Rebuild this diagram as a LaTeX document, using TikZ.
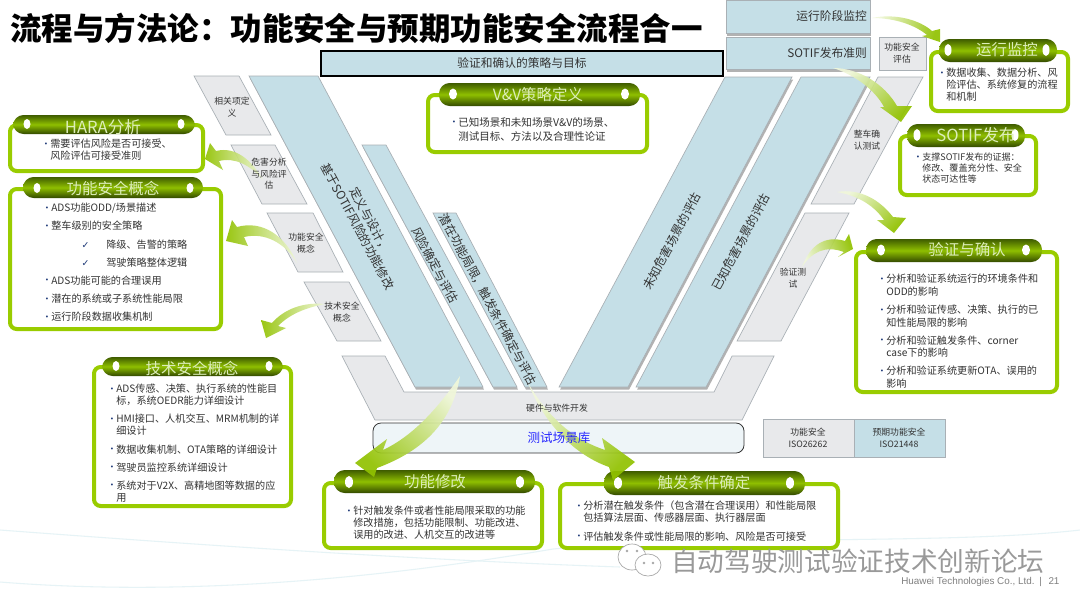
\documentclass[tikz,border=0pt]{standalone}
\usepackage{fontspec}
\setmainfont{Noto Sans CJK SC}
\newfontfamily\symfont{DejaVu Sans}
\newfontfamily\footfont{Liberation Sans}
\usetikzlibrary{shadows}
\definecolor{bandblue}{HTML}{C5DFE7}
\definecolor{bandgrey}{HTML}{E8E9EB}
\definecolor{edgegrey}{HTML}{A9B0B5}
\definecolor{framegreen}{HTML}{99CC00}
\definecolor{pilldark}{HTML}{3F5C00}
\definecolor{pillmid}{HTML}{8FBF00}
\definecolor{titlegreen}{HTML}{DDEEBB}
\definecolor{textdark}{HTML}{333333}
\definecolor{dotblue}{HTML}{1F3A78}
\definecolor{curveblue}{HTML}{E6F3F6}
\newcommand{\bl}[1]{\makebox[6.75pt][l]{\raisebox{.3pt}{\textcolor{dotblue}{\fontsize{7}{7}\selectfont •}}}#1}
\newcommand{\ct}[1]{\hspace*{6.75pt}#1}
\newcommand{\ck}[1]{\hspace*{29.5pt}\makebox[18.5pt][l]{\textcolor{dotblue}{\symfont\fontsize{7}{8}\selectfont ✓}}#1}
% full-width punctuation
\newcommand{\zcolon}{\symbol{"FF1A}}
\newcommand{\zcomma}{\symbol{"FF0C}}
\newcommand{\zopen}{\symbol{"FF08}}
\newcommand{\zclose}{\symbol{"FF09}}
\begin{document}
\begin{tikzpicture}[x=0.75pt,y=-0.75pt]
\tikzset{
	band/.style={draw=edgegrey, fill=bandblue, line width=.5pt, drop shadow={shadow xshift=.8pt, shadow yshift=-2pt, fill=black!55, opacity=.55}},
	grey/.style={draw=edgegrey, fill=bandgrey, line width=.5pt},
	frame/.style={draw=framegreen, fill=white, line width=3pt, rounded corners=5pt},
	pill/.style={draw=none, rounded corners=8pt, top color=pilldark, bottom color=pilldark!80!black, middle color=pillmid},
	eye/.style={fill=white},
	arrowfill/.style={bottom color=framegreen!15, top color=framegreen!95!black, opacity=.92},
	small/.style={align=center, inner sep=0, text=textdark, font=\fontsize{6.6}{8.6}\selectfont},
	tilted/.style={align=center, inner sep=0, text=textdark, font=\fontsize{9}{10.5}\selectfont},
	plain/.style={inner sep=0, text=textdark, font=\fontsize{8.8}{11}\selectfont},
	caption/.style={inner sep=0, text=titlegreen, font=\fontsize{11.6}{13}\selectfont},
	body/.style={align=left, anchor=north west, inner sep=0, text=textdark, font=\fontsize{7.6}{9}\selectfont}
}
\useasboundingbox (0,0) rectangle (1080,608);
\fill[white] (0,0) rectangle (1080,608);

% background curves
\draw[curveblue, line width=.8pt] (0,530) .. controls (200,545) and (420,560) .. (620,567);
\draw[curveblue, line width=.8pt] (0,582) .. controls (200,598) and (400,575) .. (553,549) .. controls (700,535) and (950,545) .. (1080,530);

% left grey blocks
\draw[grey] (194,76) -- (239,76) -- (271,135) -- (226,135) -- cycle;
\draw[grey] (231,145) -- (275,145) -- (307,204) -- (262,204) -- cycle;
\draw[grey] (267,213) -- (313,213) -- (343,272) -- (298,272) -- cycle;
\draw[grey] (304,282) -- (349,282) -- (381,341) -- (337,341) -- cycle;

% right grey blocks
\draw[grey] (878,77) -- (923,77) -- (854,204) -- (811,204) -- cycle;
\draw[grey] (805,213) -- (849,213) -- (781,341) -- (737,341) -- cycle;

% bottom block
\draw[grey] (342,356) -- (385,356) -- (404,392) -- (714,392) -- (732,356) -- (774,356) -- (742,420) -- (375,420) -- cycle;

% V bands
\draw[band] (249,76) -- (318,76) -- (483,387) -- (415,387) -- cycle;
\draw[band] (362,145) -- (386,145) -- (517,387) -- (493,387) -- cycle;
\draw[band] (433,213) -- (456,213) -- (547,387) -- (525,387) -- cycle;
\draw[band] (725,77) -- (792,77) -- (628,387) -- (559,387) -- cycle;
\draw[band] (801,77) -- (870,77) -- (706,387) -- (636,387) -- cycle;

% top blocks
\draw[band] (726,0) rectangle (870,33);
\draw[band] (726,37) rectangle (870,69);
\draw[grey] (879,37) rectangle (926,70);
\draw[fill=bandblue, line width=1pt] (321,51) rectangle (723,76);

% scenario library and standards legend
\draw[fill=bandblue!30, draw=black!80, line width=.6pt, rounded corners=6pt] (373,423) rectangle (744,453);
\draw[grey] (763,419) rectangle (854,457);
\draw[draw=edgegrey, fill=bandblue, line width=.5pt] (854,419) rectangle (945,457);

% green frames
\draw[frame] (10,125) rectangle (203,171);
\draw[frame] (10,189) rectangle (221,329);
\draw[frame] (94,367) rectangle (291,506);
\draw[frame] (428,95) rectangle (647,152);
\draw[frame] (931,52) rectangle (1068,111);
\draw[frame] (900,136) rectangle (1036,195);
\draw[frame] (856,252) rectangle (1057,392);
\draw[frame] (324,483) rectangle (542,548);
\draw[frame] (560,484) rectangle (838,548);

% title pills
\draw[pill] (13,115) rectangle (195,134);
\draw[pill] (23,177) rectangle (203,198);
\draw[pill] (102,357) rectangle (283,376);
\draw[pill] (439,83) rectangle (640,106);
\draw[pill] (939,39) rectangle (1057,62);
\draw[pill] (907,124) rectangle (1025,147);
\draw[pill] (866,239) rectangle (1042,262);
\draw[pill] (334,470) rectangle (535,493);
\draw[pill] (604,471) rectangle (805,495);

% pill ends
\fill[eye] (27,124) ellipse [x radius=3.5, y radius=5];
\fill[eye] (181,124) ellipse [x radius=3.5, y radius=5];
\fill[eye] (37,188) ellipse [x radius=3.5, y radius=5];
\fill[eye] (190,188) ellipse [x radius=3.5, y radius=5];
\fill[eye] (116,366) ellipse [x radius=3.5, y radius=5];
\fill[eye] (269,366) ellipse [x radius=3.5, y radius=5];
\fill[eye] (453,94) ellipse [x radius=4, y radius=5.5];
\fill[eye] (625,94) ellipse [x radius=4, y radius=5.5];
\fill[eye] (948,50) ellipse [x radius=3.5, y radius=6];
\fill[eye] (1046,50) ellipse [x radius=3.5, y radius=6];
\fill[eye] (917,135) ellipse [x radius=3.5, y radius=6];
\fill[eye] (1015,135) ellipse [x radius=3.5, y radius=6];
\fill[eye] (881,250) ellipse [x radius=4, y radius=5.5];
\fill[eye] (1026,250) ellipse [x radius=4, y radius=5.5];
\fill[eye] (349,482) ellipse [x radius=4, y radius=6];
\fill[eye] (520,482) ellipse [x radius=4, y radius=6];
\fill[eye] (618,483) ellipse [x radius=4, y radius=6];
\fill[eye] (790,483) ellipse [x radius=4, y radius=6];

% block arrows
\shade[arrowfill, shading angle=90] (263,180) .. controls (252,160) and (235,146) .. (216,151) -- (210,143) -- (205,159) -- (223,170) -- (219,161) .. controls (235,157) and (250,165) .. cycle;
\shade[arrowfill, shading angle=90] (297,263) .. controls (285,235) and (262,220) .. (237,227) -- (232,220) -- (226,241) -- (248,246) -- (244,237) .. controls (265,232) and (285,243) .. cycle;
\shade[arrowfill, shading angle=90] (325,304) .. controls (305,302) and (285,308) .. (272,323) -- (261,320) -- (266,338) -- (286,328) -- (278,326) .. controls (290,314) and (305,308) .. cycle;
\shade[arrowfill, shading angle=135] (460,376) .. controls (452,425) and (420,452) .. (377,468) -- (374,477) -- (355,463) -- (387,439) -- (383,450) .. controls (415,435) and (440,405) .. cycle;
\shade[arrowfill, shading angle=225] (528,383) .. controls (550,420) and (575,440) .. (605,450) -- (602,438) -- (635,462) -- (613,480) -- (609,467) .. controls (575,455) and (545,425) .. cycle;
\shade[arrowfill, shading angle=250] (872,18) .. controls (895,13) and (920,20) .. (932,31) -- (940,29) -- (940,42) -- (922,36) -- (927,35) .. controls (915,25) and (895,18) .. cycle;
\shade[arrowfill, shading angle=225] (833,68) .. controls (860,68) and (885,85) .. (897,106) -- (912,106) -- (901,122) -- (880,107) -- (884,107) .. controls (875,90) and (855,75) .. cycle;
\shade[arrowfill, shading angle=225] (837,192) .. controls (860,188) and (880,200) .. (893,217) -- (906,218) -- (894,233) -- (877,220) -- (884,220) .. controls (875,207) and (860,196) .. cycle;
\shade[arrowfill, shading angle=290] (802,267) .. controls (810,245) and (825,235) .. (845,241) -- (849,234) -- (853,249) -- (838,257) -- (844,252) .. controls (825,245) and (812,252) .. cycle;

% title
\node[anchor=west, inner sep=0, text=black, font=\fontsize{23.6}{27}\selectfont\bfseries] (main_title) at(10,28) {流程与方法论\zcolon{}功能安全与预期功能安全流程合一};

% block labels
\node[small] (item_def) at(232,107) {相关项定\\义};
\node[small] (hara_block) at(269,174) {危害分析\\与风险评\\估};
\node[small] (fsc_block) at(306,243) {功能安全\\概念};
\node[small] (tsc_block) at(342,312) {技术安全\\概念};
\node[small] (vehicle_test) at(867,140) {整车确\\认测试};
\node[small] (verify_test) at(793,278) {验证测\\试};
\node[small] (hw_sw) at(557,408) {硬件与软件开发};
\node[small] (fs_eval) at(902,53) {功能安全\\评估};
\node[small] (iso_a) at(808,438) {功能安全\\ISO26262};
\node[small] (iso_b) at(899,438) {预期功能安全\\ISO21448};

% band labels
\node[tilted, rotate=-61.8] (design_band) at(364,223) {定义与设计\zcomma\\基于SOTIF风险的功能修改};
\node[tilted, rotate=-61.8] (risk_band) at(435,265) {风险确定与评估};
\node[tilted, rotate=-61.8] (trigger_band) at(488,299) {潜在功能局限\zcomma{}触发条件确定与评估};
\node[tilted, rotate=61.8] (unknown_band) at(672,241) {未知危害场景的评估};
\node[tilted, rotate=61.8] (known_band) at(741,242) {已知危害场景的评估};

% top labels
\node[plain, anchor=east] (monitor_block) at(867,16) {运行阶段监控};
\node[plain, anchor=east] (release_block) at(867,53) {SOTIF发布准则};
\node[plain] (strategy_goal) at(522,63) {验证和确认的策略与目标};
\node[inner sep=0, text=blue!85!white, font=\fontsize{9.4}{11}\selectfont] (scene_lib) at(559,438) {测试场景库};

% pill captions
\node[caption, font=\fontsize{12.5}{14}\selectfont] (hara_cap) at(103,127) {HARA分析};
\node[caption] (fsc_cap) at(113,189) {功能安全概念};
\node[caption] (tsc_cap) at(192,369) {技术安全概念};
\node[caption] (vv_cap) at(538,95) {V\&V策略定义};
\node[caption] (mon_cap) at(1007,50) {运行监控};
\node[caption, font=\fontsize{12.5}{14}\selectfont] (sotif_cap) at(976,135) {SOTIF发布};
\node[caption] (valid_cap) at(967,250) {验证与确认};
\node[caption] (modify_cap) at(435,482) {功能修改};
\node[caption] (trig_cap) at(704,483) {触发条件确定};

% box texts
\node[body] (hara_txt) at(41,139) {\bl{需要评估风险是否可接受、}\\\ct{风险评估可接受准则}};
\node[body] (fsc_txt) at(42,203) {\bl{ADS功能ODD/场景描述}\\[4.6pt]\bl{整车级别的安全策略}\\[4.6pt]\ck{降级、告警的策略}\\[4.6pt]\ck{驾驶策略整体逻辑}\\[4.6pt]\bl{ADS功能可能的合理误用}\\[4.6pt]\bl{潜在的系统或子系统性能局限}\\[4.6pt]\bl{运行阶段数据收集机制}};
\node[body] (tsc_txt) at(107,384) {\bl{ADS传感、决策、执行系统的性能目}\\\ct{标\zcomma{}系统OEDR能力详细设计}\\[4.6pt]\bl{HMI接口、人机交互、MRM机制的详}\\\ct{细设计}\\[4.6pt]\bl{数据收集机制、OTA策略的详细设计}\\[4.6pt]\bl{驾驶员监控系统详细设计}\\[4.6pt]\bl{系统对于V2X、高精地图等数据的应}\\\ct{用}};
\node[body, font=\fontsize{7.9}{10.5}\selectfont] (vv_txt) at(449,117) {\bl{已知场景和未知场景V\&V的场景、}\\\ct{测试目标、方法以及合理性论证}};
\node[body] (mon_txt) at(937,68) {\bl{数据收集、数据分析、风}\\\ct{险评估、系统修复的流程}\\\ct{和机制}};
\node[body, font=\fontsize{6.8}{8}\selectfont] (sotif_txt) at(913,153) {\bl{支撑SOTIF发布的证据\zcolon}\\\ct{修改、覆盖充分性、安全}\\\ct{状态可达性等}};
\node[body, font=\fontsize{7.6}{9.5}\selectfont] (valid_txt) at(877,274) {\bl{分析和验证系统运行的环境条件和}\\\ct{ODD的影响}\\[4pt]\bl{分析和验证传感、决策、执行的已}\\\ct{知性能局限的影响}\\[4pt]\bl{分析和验证触发条件、corner}\\\ct{case下的影响}\\[4pt]\bl{分析和验证系统更新OTA、误用的}\\\ct{影响}};
\node[body] (modify_txt) at(344,506) {\bl{针对触发条件或者性能局限采取的功能}\\\ct{修改措施\zcomma{}包括功能限制、功能改进、}\\\ct{误用的改进、人机交互的改进等}};
\node[body] (trig_txt) at(574,501) {\bl{分析潜在触发条件\zopen{}包含潜在合理误用\zclose{}和性能局限}\\\ct{包括算法层面、传感器层面、执行器层面}\\[4.6pt]\bl{评估触发条件或性能局限的影响、风险是否可接受}};

% wechat mark
\draw[black!35, fill=white, line width=.5pt] (632,557) ellipse [x radius=14, y radius=13];
\draw[black!35, fill=white, line width=.5pt] (648,565) ellipse [x radius=13, y radius=11];
\fill[black!35] (627,551) circle (1.3);
\fill[black!35] (637,551) circle (1.3);
\fill[black!35] (644,563) circle (1.3);
\fill[black!35] (653,563) circle (1.3);

% watermark and footer
\node[anchor=west, inner sep=0, text=black!40, font=\fontsize{20}{22}\selectfont] (forum_mark) at(671,561) {自动驾驶测试验证技术创新论坛};
\node[anchor=west, inner sep=0, text=black!50, font=\footfont\fontsize{7.4}{9}\selectfont] (foot_left) at(901,582) {Huawei Technologies Co., Ltd.};
\node[anchor=west, inner sep=0, text=black!50, font=\footfont\fontsize{7.4}{9}\selectfont] (foot_right) at(1039,582) {|\hspace{5pt}21};

\end{tikzpicture}
\end{document}
